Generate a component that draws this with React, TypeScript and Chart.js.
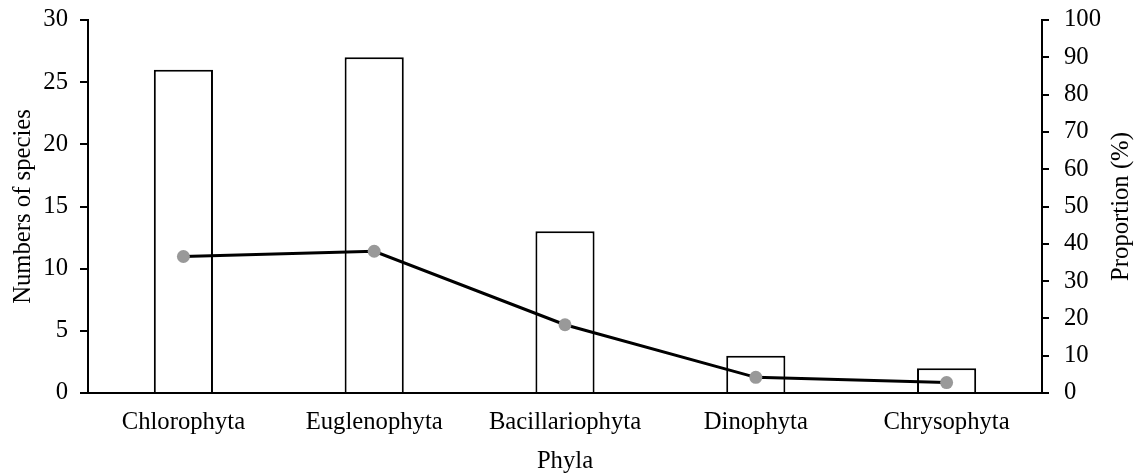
import React, { useEffect, useRef } from "react";
import { Chart, registerables } from "chart.js";

Chart.register(...registerables);

const categories = ["Chlorophyta", "Euglenophyta", "Bacillariophyta", "Dinophyta", "Chrysophyta"];
const speciesCounts = [26, 27, 13, 3, 2];
const proportions = [36.6, 38.0, 18.3, 4.2, 2.8];
const leftTitle = "Numbers of species";
const rightTitle = "Proportion (%)";
const xTitle = "Phyla";

const FONT = "'Liberation Serif', 'Times New Roman', serif";
const FS = 24.7;

const rightTitlePlugin = {
  id: "rightTitle",
  afterDraw(chart: any) {
    const s = chart.scales.y1;
    if (!s) return;
    const ctx = chart.ctx;
    ctx.save();
    ctx.font = `${FS}px ${FONT}`;
    ctx.fillStyle = "#000";
    ctx.textAlign = "center";
    ctx.textBaseline = "middle";
    const cx = 1122;
    const cy = (s.top + s.bottom) / 2;
    ctx.translate(cx, cy);
    ctx.rotate(-Math.PI / 2);
    ctx.fillText(rightTitle, 0, 0);
    ctx.restore();
  },
};

export default function App() {
  const ref = useRef<HTMLCanvasElement | null>(null);
  useEffect(() => {
    if (!ref.current) return;
    const font = { family: FONT, size: FS };
    const chart = new Chart(ref.current, {
      type: "bar",
      data: {
        labels: categories,
        datasets: [
          {
            type: "line",
            label: "Proportion",
            data: proportions,
            yAxisID: "y1",
            borderColor: "#000",
            borderWidth: 3,
            pointRadius: 6.5,
            pointBackgroundColor: "#999999",
            pointBorderColor: "#999999",
            pointBorderWidth: 0,
            tension: 0,
            order: 0,
          } as any,
          {
            type: "bar",
            label: "Species",
            data: speciesCounts,
            yAxisID: "y",
            backgroundColor: "#ffffff",
            borderColor: "#000",
            borderWidth: 2,
            categoryPercentage: 1,
            barPercentage: 0.31,
            order: 1,
          } as any,
        ],
      },
      options: {
        responsive: false,
        animation: false,
        devicePixelRatio: 1,
        layout: { padding: { top: 20, left: 0, right: 0, bottom: 0 } },
        plugins: { legend: { display: false }, tooltip: { enabled: false } },
        scales: {
          x: {
            grid: { display: false },
            border: { display: true, color: "#000", width: 2 },
            ticks: { color: "#000", font, padding: 7 },
            title: { display: true, text: xTitle, color: "#000", font: { ...font, lineHeight: 1.0 }, padding: { top: 0, bottom: 0 } },
            afterFit: (s: any) => { s.height = 81; s.paddingLeft = 0; s.paddingRight = 0; },
          },
          y: {
            position: "left",
            min: 0,
            max: 30,
            ticks: { stepSize: 5, color: "#000", font, padding: 12 },
            grid: { drawOnChartArea: false, drawTicks: true, tickLength: 8, color: "#000", lineWidth: 2 },
            border: { display: true, color: "#000", width: 2 },
            title: { display: true, text: leftTitle, color: "#000", font, padding: { top: 9, bottom: 0 } },
            afterFit: (s: any) => { s.width = 88; s.paddingTop = 0; s.paddingBottom = 0; },
          },
          y1: {
            position: "right",
            min: 0,
            max: 100,
            ticks: { stepSize: 10, color: "#000", font, padding: 15 },
            grid: { drawOnChartArea: false, drawTicks: true, tickLength: 7, color: "#000", lineWidth: 2 },
            border: { display: true, color: "#000", width: 2 },
            afterFit: (s: any) => { s.width = 99; s.paddingTop = 0; s.paddingBottom = 0; },
          },
        },
      } as any,
      plugins: [rightTitlePlugin],
    });
    return () => chart.destroy();
  }, []);
  return (
    <div style={{ position: "fixed", left: 0, top: 0, width: 1141, height: 474, background: "#fff" }}>
      <canvas ref={ref} width={1141} height={474} style={{ display: "block" }} />
    </div>
  );
}
